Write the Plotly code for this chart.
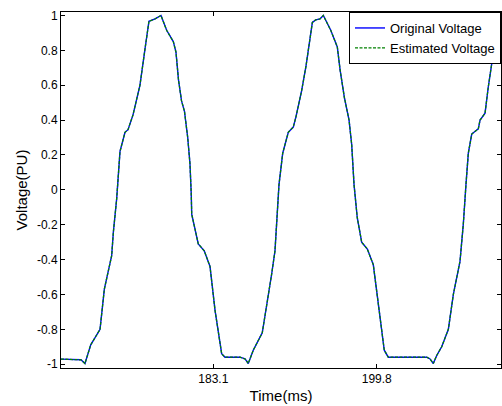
import plotly.graph_objects as go

# Time (ms) and voltage (PU)
time_ms = [167.53, 169.17, 169.57, 169.98, 170.57, 171.52, 171.96, 172.71, 172.88, 173.22,
           173.39, 173.56, 174.07, 174.38, 174.89, 175.60, 176.12, 176.52, 177.14, 177.75,
           178.33, 179.01, 179.28, 179.54, 179.85, 180.15, 180.48, 180.71, 180.84, 180.89,
           181.56, 182.17, 182.76, 183.27, 183.95, 184.29, 185.83, 186.34, 186.67, 187.18,
           188.10, 188.55, 189.07, 189.40, 189.68, 189.81, 190.19, 190.76, 191.27, 191.55,
           192.13, 192.57, 193.22, 193.56, 194.00, 194.34, 195.10, 195.77, 196.05, 196.49,
           196.97, 197.24, 197.48, 197.81, 198.26, 198.84, 199.45, 200.13, 200.57, 200.98,
           204.91, 205.25, 205.58, 205.93, 206.44, 207.12, 207.63, 208.31, 208.65, 208.92,
           209.16, 209.51, 210.18, 210.36, 210.87, 211.20, 211.65, 212.50]
original_voltage = [-0.971, -0.971, -0.975, -0.996, -0.889, -0.80, -0.57, -0.377, -0.243, -0.052,
                    0.12, 0.22, 0.33, 0.345, 0.43, 0.60, 0.81, 0.967, 0.98, 1.0,
                    0.915, 0.85, 0.79, 0.63, 0.51, 0.45, 0.30, 0.15, -0.02, -0.14,
                    -0.31, -0.35, -0.44, -0.69, -0.94, -0.96, -0.96, -0.97, -0.996, -0.92,
                    -0.82, -0.67, -0.48, -0.35, -0.12, 0.03, 0.21, 0.33, 0.36, 0.42,
                    0.57, 0.71, 0.96, 0.975, 0.98, 1.0, 0.915, 0.82, 0.69, 0.53,
                    0.40, 0.26, 0.03, -0.16, -0.30, -0.34, -0.43, -0.73, -0.92, -0.96,
                    -0.96, -0.97, -0.996, -0.95, -0.90, -0.80, -0.60, -0.41, -0.195, 0.03,
                    0.21, 0.32, 0.35, 0.40, 0.44, 0.59, 0.76, 0.95]
estimated_voltage = list(original_voltage)

x_tick_vals = [183.1, 199.8]
x_tick_text = ["183.1", "199.8"]
y_tick_vals = [-1, -0.8, -0.6, -0.4, -0.2, 0, 0.2, 0.4, 0.6, 0.8, 1]
y_tick_text = ["-1", "-0.8", "-0.6", "-0.4", "-0.2", "0", "0.2", "0.4", "0.6", "0.8", "1"]

FONT = "Liberation Sans, Arial, sans-serif"

fig = go.Figure()
fig.add_trace(go.Scatter(x=time_ms, y=original_voltage, mode="lines", name="Original Voltage",
                         line=dict(color="#0000ff", width=1.4)))
fig.add_trace(go.Scatter(x=time_ms, y=estimated_voltage, mode="lines", name="Estimated Voltage",
                         line=dict(color="#008000", width=1.3, dash="3px,1.5px")))

fig.update_layout(
    width=502, height=406,
    margin=dict(l=61, r=1, t=12, b=38),
    paper_bgcolor="white", plot_bgcolor="white",
    font=dict(family=FONT, size=12, color="black"),
    showlegend=True,
    legend=dict(x=1, y=1, xanchor="right", yanchor="top",
                bgcolor="white", bordercolor="black", borderwidth=1,
                font=dict(family=FONT, size=13, color="black"),
                tracegroupgap=0, itemwidth=30),
    xaxis=dict(range=[167.53, 212.5], tickmode="array", tickvals=x_tick_vals, ticktext=x_tick_text,
               ticks="inside", ticklen=4, tickcolor="black", showline=True, linecolor="black",
               linewidth=1, mirror="allticks", showgrid=False, zeroline=False,
               tickfont=dict(family=FONT, size=12),
               title=dict(text="Time(ms)", font=dict(family=FONT, size=15), standoff=5)),
    yaxis=dict(range=[-1.022, 1.02], tickmode="array", tickvals=y_tick_vals, ticktext=y_tick_text,
               ticks="inside", ticklen=4, tickcolor="black", showline=True, linecolor="black",
               linewidth=1, mirror="allticks", showgrid=False, zeroline=False,
               tickfont=dict(family=FONT, size=12),
               title=dict(text="Voltage(PU)", font=dict(family=FONT, size=15), standoff=5)),
)

fig.write_html("out.html", config={"displayModeBar": False},
               post_script="document.body.style.margin='0';document.body.style.overflow='hidden';")
